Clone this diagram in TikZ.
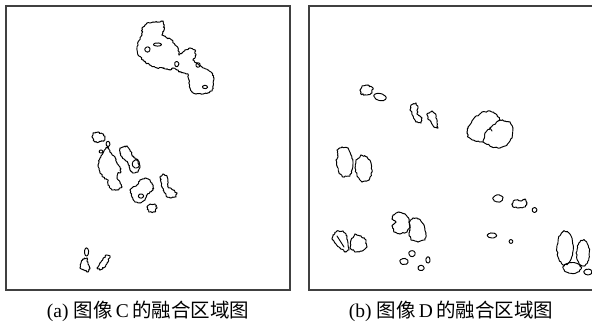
\documentclass[tikz,border=0pt]{standalone}
\usepackage{fontspec}
\setmainfont{Liberation Serif}
\newfontfamily\cjk{Noto Sans CJK SC}
\newcommand{\jagamp}{0.75}
\newcommand{\eblob}[4]{\draw[blob] plot[samples=24, domain=0:345] ({#1+#3*(1+0.08*rand)*cos(\x)},{#2+#4*(1+0.08*rand)*sin(\x)}) -- cycle;}
\newcommand{\rblob}[4]{\draw[blob] plot[samples=44, domain=0:351.8] ({#1+#3*(1+0.09*rand)*cos(\x)},{#2+#4*(1+0.05*rand)*sin(\x)}) -- cycle;}
\newcommand{\jline}[3]{%
  \foreach \px/\py [remember=\px as \qx (initially #1), remember=\py as \qy (initially #2)] in {#3}
  {\draw[blob] plot[samples=6, domain=0:1] ({\qx+(\px-\qx)*\x+\jagamp*rand*sin(180*\x)},{\qy+(\py-\qy)*\x+\jagamp*rand*sin(180*\x)});}}
\newcommand{\jblob}[3]{\jline{#1}{#2}{#3,#1/#2}}
\begin{document}
\begin{tikzpicture}[x=1pt,y=-1pt,
  panelframe/.style={draw=black!75, line width=1.3pt},
  blob/.style={draw=black, line width=0.95pt, line join=round, line cap=round},
  captext/.style={font=\fontsize{19.5}{22}\selectfont, inner sep=0pt}]
\pgfmathsetseed{11}
\useasboundingbox[fill=white] (0,0) rectangle (592,324);
% frames
\draw[panelframe] (6,6) rectangle (290,290);
\draw[panelframe] (592,6) -- (309,6) -- (309,290) -- (592,290);
% ===== left panel =====
\jblob{147}{23}{153/22, 158/22, 163/21, 164/26, 164/30, 162/35, 167/38, 172/40, 175/45, 178/48, 179/55, 182/53, 185/50, 190/48, 195/50, 196/55, 193/60, 197/63, 202/67, 208/70, 212/73, 214/78, 213/86, 212/91, 208/93, 202/94, 196/94, 192/92, 190/88, 189/80, 188/74, 184/73, 180/72, 177/70, 173/68, 170/70, 166/69, 163/68, 157/68, 150/65, 146/63, 143/60, 138/55, 137/48, 138/42, 142/35, 142/28}
\eblob{157.5}{44.5}{4}{1.5}
\eblob{147.5}{49.5}{2.5}{2.5}
\eblob{176.7}{64}{2}{2.5}
\eblob{198}{65}{2}{2.2}
\eblob{205}{87}{2.5}{1.5}
% middle cluster
\jblob{92}{137}{93/133, 98/132, 103/134, 105/137, 104/141, 99/142, 95/142}
\eblob{108}{144}{1.8}{2.5}
\eblob{101}{151.5}{1.8}{1.5}
\jblob{108}{147}{110/152, 115/157, 117/163, 120/167, 121/172, 118/173, 117/178, 120/182, 122/187, 118/190, 112/190, 108/185, 108/180, 103/177, 100/173, 98/165, 100/158, 103/153, 106/148}
\jblob{120}{148}{123/147, 127/146, 130/150, 132/155, 135/158, 138/160, 140/167, 138/172, 133/173, 130/170, 128/163, 125/160, 122/157, 120/153}
\eblob{136}{164}{3.5}{4}
\jblob{140}{180}{145/178, 150/180, 153/185, 153/190, 150/192, 147/195, 145/200, 140/203, 135/202, 132/197, 130/190, 133/187, 137/185}
\eblob{141}{196}{2.5}{2}
\jblob{147}{207}{150/204, 155/204, 157/208, 155/212, 149/212}
\jblob{160}{177}{163/174, 167/176, 168/182, 168/187, 173/190, 177/193, 176/197, 171/198, 167/197, 164/192, 162/187, 161/182}
% bottom
\eblob{86.5}{252}{2}{4}
\jblob{83}{259}{87/258, 88/263, 90/268, 88/272, 84/270, 80/268, 81/263}
\jblob{106}{255}{110/256, 108/262, 105/267, 100/270, 97/268, 100/263, 103/259}
% ===== right panel =====
\jblob{360}{90}{362/86, 368/85, 373/88, 372/93, 366/95, 361/94}
\begin{scope}[rotate around={-15:(380,97)}]
\eblob{380}{97}{6}{3.5}
\end{scope}
\jblob{411}{105}{416/103, 418/108, 417/114, 422/118, 421/123, 416/122, 413/116, 410/110}
\jblob{427}{114}{432/111, 436/115, 437/122, 438/128, 434/127, 431/122, 428/119}
\jblob{337}{150}{342/147, 348/148, 351/155, 353/163, 352/170, 350/176, 343/177, 339/173, 337/166, 336/160, 338/156}
\jblob{356}{160}{361/155, 367/157, 371/163, 372/172, 369/180, 362/182, 357/176, 355/168}
% big pair
\jblob{468}{127}{475/117, 482/112, 490/111, 497/115, 500/120, 505/121, 510/122, 513/128, 512/138, 507/145, 500/148, 492/147, 483/142, 475/141, 468/137, 467/132}
\jline{483}{142}{485/133, 490/128, 498/121, 500/120}
\draw[blob] (490,128) -- (492,131);
% small ones
\eblob{498}{198.5}{5}{3.5}
\jblob{512}{204}{515/200, 521/201, 525/199, 527/203, 525/207, 518/208, 513/207}
\eblob{534.5}{210}{2.3}{2.3}
\eblob{492}{235.5}{4.5}{2.5}
\eblob{511}{241.5}{1.8}{1.8}
\jblob{393}{215}{399/212, 405/214, 409/219, 410/226, 407/232, 400/234, 394/232, 392/226, 396/222, 392/219}
\jblob{409}{222}{413/218, 419/219, 424/225, 426/233, 425/240, 418/242, 411/240, 409/233, 410/228}
\eblob{404}{261.5}{4}{3}
\eblob{412}{253.5}{3}{3}
\eblob{421}{268}{3}{2.5}
\eblob{428}{260}{2}{3}
\jblob{333}{235}{337/231, 343/231, 347/236, 348/243, 349/250, 345/252, 340/248, 335/243, 332/239}
\draw[blob] (337,236) -- (344,247);
\jblob{351}{240}{355/234, 361/236, 366/240, 367/247, 362/251, 355/252, 350/248}
% bottom right cluster
\rblob{565}{248}{8}{17}
\rblob{583}{253}{6.5}{13}
\rblob{572}{268}{9}{5.5}
\rblob{588}{272}{4}{2.8}
% captions
\node[captext] (capa) at (148,311) {(a) {\cjk 图像}\,C\,{\cjk 的融合区域图}};
\node[captext] (capb) at (451,311) {(b) {\cjk 图像}\,D\,{\cjk 的融合区域图}};
\end{tikzpicture}
\end{document}
